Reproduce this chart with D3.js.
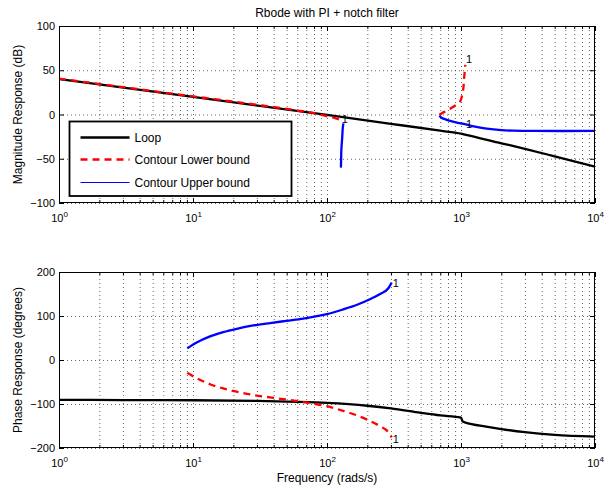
<!DOCTYPE html>
<html>
<head>
<meta charset="utf-8">
<script src="https://cdn.jsdelivr.net/npm/d3@7"></script>
<style>
  body { margin: 0; background: #fff; }
  svg { display: block; }
  text { font-family: "Liberation Sans", Arial, Helvetica, sans-serif; fill: #000; }
</style>
</head>
<body>
<svg id="chart" width="613" height="489"></svg>
<script>
// ---- axes ticks and labels ----
const decades = [1, 10, 100, 1000, 10000];
const magTicks = [-100, -50, 0, 50, 100];
const phaseTicks = [-200, -100, 0, 100, 200];
const legendLabels = ["Loop", "Contour Lower bound", "Contour Upper bound"];

// ---- open-loop magnitude (dB) and phase (deg) ----
const loopMagFreq = [1, 10, 100, 300, 700, 1000, 1050, 2000, 3000, 5000, 10000];
const loopMag     = [40, 20, -0.5, -10.5, -18.3, -21.7, -22.4, -32.5, -38.8, -47.3, -59];
const loopPhaseFreq = [1, 3, 10, 30, 60, 100, 200, 300, 500, 700, 1000, 1030, 1200, 1500, 2000, 3000, 5000, 10000];
const loopPhase     = [-90.5, -91, -91.5, -93, -95, -97.5, -104, -110, -120, -126, -131, -140, -145.5, -151, -157, -164, -170, -174];

// ---- magnitude contour bounds (two pieces each) ----
const lowerMagFreqA = [1, 10, 30, 60, 80, 100, 115, 125];
const lowerMagA     = [40.5, 20.5, 11, 4.5, 1.5, -2, -4, -6];
const lowerMagFreqB = [690, 720, 782, 877, 983, 1028, 1045, 1052, 1065, 1077];
const lowerMagB     = [-0.5, 1.5, 4.3, 8.8, 14.5, 24, 32, 39, 48, 56];
const upperMagFreqA = [132.5, 131, 130, 129, 128, 127.5, 127];
const upperMagA     = [-10, -16, -25, -32, -40, -50, -60];
const upperMagFreqB = [690, 720, 782, 900, 1102, 1300, 1555, 2000, 2456, 3500, 10000];
const upperMagB     = [-1.5, -4, -6, -8.5, -11.5, -14, -16, -17.7, -18.3, -18.6, -18.6];

// ---- phase contour bounds ----
const boundPhaseFreq = [9.07, 10.65, 13.4, 16.8, 21.2, 28.2, 37.6, 50, 66.6, 99.5, 132, 166, 209, 249, 287, 304];
const upperPhase = [26.5, 39.6, 53.6, 63.4, 71, 78.5, 84, 89, 94, 104, 115, 125, 138, 150, 163, 176];
const lowerPhase = [-29, -41.5, -55, -64.5, -72, -79.5, -85, -90, -95.5, -105, -115.5, -125.5, -138.5, -150.5, -164, -176];

// ---- contour level labels ("1") : [freq, value] ----
const magLevelLabels = [[1089, 58.5], [1089, -15.6], [129, -10]];
const phaseLevelLabels = [[309, 166.6], [309, -189]];
const levelText = "1";

// ---- styles ----
const styles = {
  loop:  { stroke: "#000", width: 2.3, dash: null },
  lower: { stroke: "#ff0000", width: 2.3, dash: "7,5" },
  upper: { stroke: "#0000ff", width: 2.3, dash: null }
};

const svg = d3.select("#chart");
const plotLeft = 59, plotRight = 595;
const plotW = plotRight - plotLeft;

const x = d3.scaleLog().domain([1, 10000]).range([plotLeft, plotRight]);

const minorTicks = [];
decades.slice(0, -1).forEach(d => { for (let i = 2; i <= 9; i++) minorTicks.push(d * i); });
const allXTicks = decades.concat(minorTicks);

function supLabel(sel) {
  sel.each(function (d) {
    const t = d3.select(this);
    const e = Math.round(Math.log10(d));
    t.text(null);
    t.append("tspan").text("10");
    t.append("tspan").attr("font-size", "8px").attr("dy", "-5").text(e);
  });
}

function drawPanel(p, idx) {
  const y = d3.scaleLinear().domain(p.domain).range([p.bottom, p.top]);
  const h = p.bottom - p.top;
  const g = svg.append("g");

  const clipId = "clip" + idx;
  svg.append("defs").append("clipPath").attr("id", clipId)
    .append("rect").attr("x", plotLeft).attr("y", p.top).attr("width", plotW).attr("height", h);

  // dotted grid
  const gridStyle = s => s.attr("stroke", "#000").attr("stroke-opacity", 0.75)
    .attr("stroke-width", 0.8).attr("stroke-dasharray", "1,3");
  g.append("g").attr("transform", `translate(0,${p.bottom})`)
    .call(d3.axisBottom(x).tickValues(allXTicks).tickSize(-h).tickFormat(""))
    .call(a => a.select(".domain").remove())
    .call(a => a.selectAll("text").remove())
    .selectAll("line").call(gridStyle);
  g.append("g").attr("transform", `translate(${plotLeft},0)`)
    .call(d3.axisLeft(y).tickValues(p.ticks).tickSize(-plotW).tickFormat(""))
    .call(a => a.select(".domain").remove())
    .call(a => a.selectAll("text").remove())
    .selectAll("line").call(gridStyle);

  // data curves
  const dataG = g.append("g").attr("clip-path", `url(#${clipId})`);
  p.series.forEach(s => {
    const st = styles[s.kind];
    const line = d3.line().x(d => x(d[0])).y(d => y(d[1]))
      .curve(s.monotone ? d3.curveMonotoneX : d3.curveCatmullRom.alpha(0.5));
    dataG.append("path")
      .attr("d", line(d3.zip(s.f, s.v)))
      .attr("fill", "none")
      .attr("stroke", st.stroke)
      .attr("stroke-width", st.width)
      .attr("stroke-dasharray", st.dash)
      .attr("stroke-linejoin", "round");
  });

  // contour level labels
  g.selectAll("text.lvl").data(p.levels).join("text")
    .attr("class", "lvl")
    .attr("x", d => x(d[0]))
    .attr("y", d => y(d[1]))
    .attr("font-size", "11px")
    .text(levelText);

  // axes box
  g.append("rect").attr("x", plotLeft + 0.5).attr("y", p.top + 0.5)
    .attr("width", plotW - 1).attr("height", h - 1)
    .attr("fill", "none").attr("stroke", "#000").attr("stroke-width", 1);

  const tickStyle = a => {
    a.select(".domain").remove();
    a.selectAll("line").attr("stroke", "#000");
  };

  // bottom axis: major ticks with labels, minor ticks
  const bAx = g.append("g").attr("transform", `translate(0,${p.bottom})`)
    .call(d3.axisBottom(x).tickValues(decades).tickSize(-5).tickFormat(d => d))
    .call(tickStyle);
  bAx.selectAll("text")
    .attr("y", 18.5).attr("dy", null)
    .attr("font-size", "11px").attr("font-family", null).attr("fill", "#000")
    .call(supLabel);
  g.append("g").attr("transform", `translate(0,${p.bottom})`)
    .call(d3.axisBottom(x).tickValues(minorTicks).tickSize(-3).tickFormat(""))
    .call(tickStyle);
  // top axis ticks
  g.append("g").attr("transform", `translate(0,${p.top})`)
    .call(d3.axisTop(x).tickValues(decades).tickSize(-5).tickFormat(""))
    .call(tickStyle);
  g.append("g").attr("transform", `translate(0,${p.top})`)
    .call(d3.axisTop(x).tickValues(minorTicks).tickSize(-3).tickFormat(""))
    .call(tickStyle);

  // left axis with labels, right axis ticks
  const lAx = g.append("g").attr("transform", `translate(${plotLeft},0)`)
    .call(d3.axisLeft(y).tickValues(p.ticks).tickSize(-5).tickPadding(4)
      .tickFormat(d => d < 0 ? "\u2212" + Math.abs(d) : String(d)))
    .call(tickStyle);
  lAx.selectAll("text").attr("font-size", "11px").attr("font-family", null).attr("fill", "#000");
  g.append("g").attr("transform", `translate(${plotRight},0)`)
    .call(d3.axisRight(y).tickValues(p.ticks).tickSize(-5).tickFormat(""))
    .call(tickStyle);

  // y axis title
  g.append("text")
    .attr("transform", `translate(22,${(p.top + p.bottom) / 2}) rotate(-90)`)
    .attr("text-anchor", "middle")
    .attr("font-size", "12px")
    .text(p.label);

  return y;
}

const panels = [
  {
    top: 26, bottom: 203, domain: [-100, 100], ticks: magTicks,
    label: "Magnitude Response (dB)",
    series: [
      { kind: "loop", f: loopMagFreq, v: loopMag, monotone: true },
      { kind: "lower", f: lowerMagFreqA, v: lowerMagA, monotone: true },
      { kind: "lower", f: lowerMagFreqB, v: lowerMagB },
      { kind: "upper", f: upperMagFreqA, v: upperMagA },
      { kind: "upper", f: upperMagFreqB, v: upperMagB }
    ],
    levels: magLevelLabels
  },
  {
    top: 272, bottom: 448, domain: [-200, 200], ticks: phaseTicks,
    label: "Phase Response (degrees)",
    series: [
      { kind: "loop", f: loopPhaseFreq, v: loopPhase, monotone: true },
      { kind: "lower", f: boundPhaseFreq, v: lowerPhase, monotone: true },
      { kind: "upper", f: boundPhaseFreq, v: upperPhase, monotone: true }
    ],
    levels: phaseLevelLabels
  }
];

panels.forEach(drawPanel);

// title and frequency label
const midX = (plotLeft + plotRight) / 2;
svg.append("text").attr("x", midX).attr("y", 17)
  .attr("text-anchor", "middle").attr("font-size", "12px")
  .text("Rbode with PI + notch filter");
svg.append("text").attr("x", midX).attr("y", 482)
  .attr("text-anchor", "middle").attr("font-size", "12px")
  .text("Frequency (rads/s)");

// legend
const legend = svg.append("g").attr("transform", "translate(69.5,121.5)");
legend.append("rect").attr("width", 222).attr("height", 74.5)
  .attr("fill", "#fff").attr("stroke", "#000").attr("stroke-width", 1.8);
const legendKinds = ["loop", "lower", "upper"];
const legendRowY = [16, 38, 61];
legendKinds.forEach((k, i) => {
  const st = styles[k];
  legend.append("line")
    .attr("x1", 11).attr("x2", 60)
    .attr("y1", legendRowY[i]).attr("y2", legendRowY[i])
    .attr("stroke", st.stroke)
    .attr("stroke-width", k === "upper" ? 1 : st.width)
    .attr("stroke-dasharray", st.dash);
  legend.append("text")
    .attr("x", 65).attr("y", legendRowY[i]).attr("dy", "0.35em")
    .attr("font-size", "12px")
    .text(legendLabels[i]);
});
</script>
</body>
</html>
